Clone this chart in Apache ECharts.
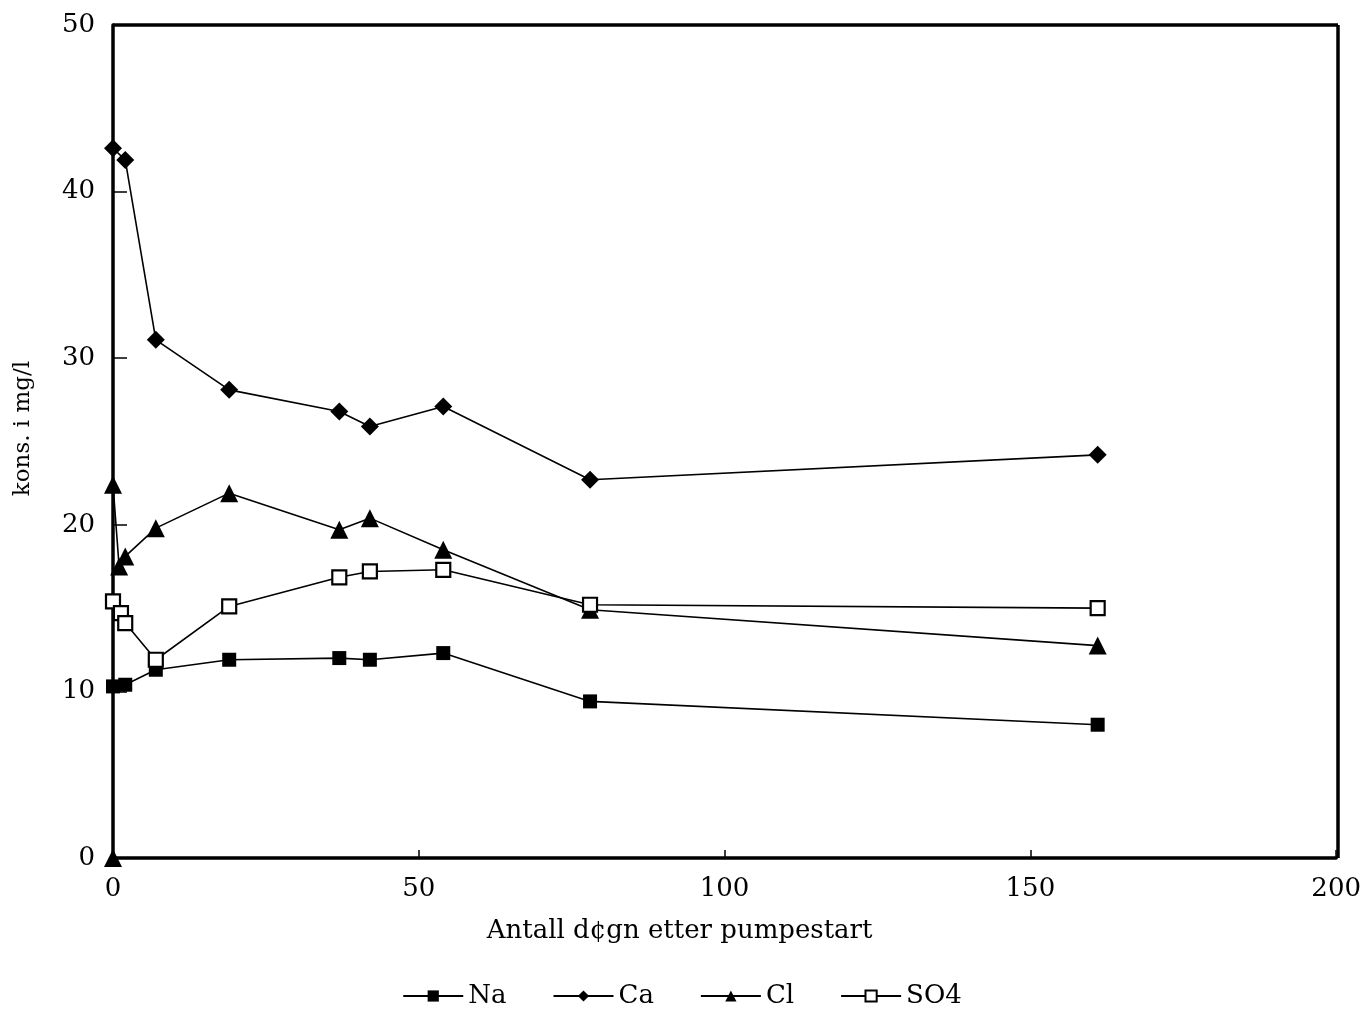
<!DOCTYPE html>
<html><head><meta charset="utf-8">
<script src="https://cdn.jsdelivr.net/npm/echarts@6/dist/echarts.min.js"></script>
<style>html,body{margin:0;padding:0;background:#fff}#c{width:1364px;height:1012px}</style>
</head><body><div id="c"></div>
<script>
const xTicks = [0, 50, 100, 150, 200];
const yTicks = [0, 10, 20, 30, 40, 50];
const naX = [0, 2, 7, 19, 37, 42, 54, 78, 161];
const naY = [10.3, 10.4, 11.3, 11.9, 12.0, 11.9, 12.3, 9.4, 8.0];
const caX = [0, 2, 7, 19, 37, 42, 54, 78, 161];
const caY = [42.6, 41.9, 31.1, 28.1, 26.8, 25.9, 27.1, 22.7, 24.2];
const clX = [0, 0, 1, 2, 7, 19, 37, 42, 54, 78, 161];
const clY = [0, 22.4, 17.5, 18.1, 19.8, 21.9, 19.7, 20.4, 18.5, 14.9, 12.75];
const so4X = [0, 1.3, 2, 7, 19, 37, 42, 54, 78, 161];
const so4Y = [15.4, 14.7, 14.1, 11.9, 15.1, 16.85, 17.2, 17.3, 15.2, 15.0];

const zip = (xs, ys) => xs.map((x, i) => [x, ys[i]]);
const font = 'DejaVu Serif';
const mk = (name, xs, ys, symbol, size, fill) => ({
  name, type: 'line', data: zip(xs, ys), symbol, symbolSize: size,
  lineStyle: { color: '#000', width: 1.6 },
  itemStyle: { color: fill, borderColor: '#000', borderWidth: fill === '#fff' ? 2.2 : 0 },
  emphasis: { disabled: true }, animation: false
});
const chart = echarts.init(document.getElementById('c'));
chart.setOption({
  backgroundColor: '#fff',
  animation: false,
  grid: { left: 113, right: 26, top: 25, bottom: 154 },
  xAxis: {
    type: 'value', min: 0, max: 200, interval: 50,
    name: 'Antall d¢gn etter pumpestart', nameLocation: 'middle', nameGap: 60,
    nameTextStyle: { fontFamily: font, fontSize: 26, color: '#000', padding: [0, 90, 0, 0] },
    axisLine: { lineStyle: { color: '#000', width: 3.5 } },
    axisTick: { inside: true, length: 8, lineStyle: { color: '#000', width: 1.5 } },
    axisLabel: { fontFamily: font, fontSize: 26, color: '#000', margin: 18,
      formatter: v => xTicks.includes(v) ? String(v) : '' },
    splitLine: { show: false }
  },
  yAxis: {
    type: 'value', min: 0, max: 50, interval: 10,
    name: 'kons. i mg/l', nameLocation: 'middle', nameGap: 78, nameRotate: 90,
    nameTextStyle: { fontFamily: font, fontSize: 23, color: '#000', padding: [0, 0, 0, 26] },
    axisLine: { lineStyle: { color: '#000', width: 3.5 } },
    axisTick: { inside: true, length: 14, lineStyle: { color: '#000', width: 1.5 } },
    axisLabel: { fontFamily: font, fontSize: 26, color: '#000', margin: 18,
      formatter: v => yTicks.includes(v) ? String(v) : '' },
    splitLine: { show: false }
  },
  legend: {
    top: 978, left: 'center', itemWidth: 60, itemHeight: 14, itemGap: 46,
    textStyle: { fontFamily: font, fontSize: 26, color: '#000' },
    data: ['Na', 'Ca', 'Cl', 'SO4']
  },
  graphic: [
    { type: 'line', shape: { x1: 113, y1: 25, x2: 1338, y2: 25 }, style: { stroke: '#000', lineWidth: 3.5 } },
    { type: 'line', shape: { x1: 1338, y1: 25, x2: 1338, y2: 858 }, style: { stroke: '#000', lineWidth: 3.5 } }
  ],
  series: [
    mk('Na', naX, naY, 'rect', 14, '#000'),
    mk('Ca', caX, caY, 'diamond', 18, '#000'),
    mk('Cl', clX, clY, 'triangle', 18, '#000'),
    mk('SO4', so4X, so4Y, 'rect', 14, '#fff')
  ]
});
</script></body></html>
